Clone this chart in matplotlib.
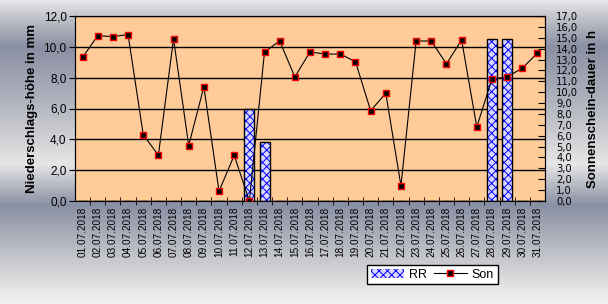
import numpy as np
import matplotlib.pyplot as plt
from matplotlib.patches import Patch
from matplotlib.lines import Line2D
from matplotlib.colors import LinearSegmentedColormap

days = ['%02d.07.2018' % d for d in range(1, 32)]
rain = [0, 0, 0, 0, 0, 0, 0, 0, 0, 0, 0, 6.0, 3.8, 0, 0, 0, 0, 0, 0, 0,
        0, 0, 0, 0, 0, 0, 0, 10.5, 10.5, 0, 0]
sun = [13.2, 15.2, 15.1, 15.3, 6.1, 4.2, 14.9, 5.1, 10.5, 0.9, 4.2, 0.0,
       13.7, 14.7, 11.4, 13.7, 13.5, 13.5, 12.8, 8.3, 9.9, 1.4, 14.7, 14.7,
       12.6, 14.8, 6.8, 11.2, 11.4, 12.2, 13.6]

plt.rcParams['font.family'] = ['Liberation Sans', 'DejaVu Sans']
plt.rcParams['hatch.linewidth'] = 0.7

fig = plt.figure(figsize=(6.08, 3.04), dpi=100)

# metallic background
bg = fig.add_axes([0, 0, 1, 1], zorder=-10)
stops = [(0.0, '#e6e6ea'), (0.05, '#c4c6cc'), (0.15, '#8a8fa3'),
         (0.33, '#b0b3be'), (0.46, '#d2d2d6'), (0.54, '#e6e6e6'),
         (0.61, '#b8bac4'), (0.675, '#8a90a4'), (0.79, '#b0b3bd'),
         (0.92, '#dcdcde'), (1.0, '#f2f2f2')]
cmap = LinearSegmentedColormap.from_list('metal', stops)
bg.imshow(np.linspace(0, 1, 300).reshape(-1, 1), aspect='auto', cmap=cmap,
          extent=[0, 1, 0, 1], origin='upper')
bg.axis('off')

ax = fig.add_axes([75 / 608, 1 - 201 / 304, 470 / 608, 185 / 304])
ax.set_facecolor('#ffcc99')
x = np.arange(len(days))

# bars: blue checker hatch then black outline
ax.bar(x, rain, width=0.66, color='#d8d8ff', edgecolor='#0000ff', hatch='xxxx',
       linewidth=0, zorder=2)
ax.bar(x, rain, width=0.66, fill=False, edgecolor='black', linewidth=1, zorder=3)

ax.set_ylim(0, 12)
ax.set_xlim(-0.5, len(days) - 0.5)
ax.set_yticks(np.arange(0, 12.1, 2))
ax.yaxis.set_major_formatter(plt.FuncFormatter(lambda v, p: ('%.1f' % v).replace('.', ',')))
ax.grid(axis='y', color='black', linewidth=1, zorder=1)
ax.set_axisbelow(True)
ax.tick_params(axis='y', direction='out', length=4, pad=2, labelsize=8.5)
ax.set_xticks(x)
ax.set_xticklabels(days, rotation=90, fontsize=7.2)
ax.tick_params(axis='x', length=0, pad=4)
ax.set_xticks(np.arange(0.5, len(days) - 0.5), minor=True)
ax.tick_params(axis='x', which='minor', direction='inout', length=6)
for s in ax.spines.values():
    s.set_color('black')
ax.set_ylabel('Niederschlags-höhe in mm', fontsize=9.5, fontweight='bold', labelpad=4)

ax2 = ax.twinx()
ax2.plot(x, sun, color='black', linewidth=0.8, marker='s', markersize=5,
         markerfacecolor='black', markeredgecolor='red', markeredgewidth=1, zorder=5)
ax2.set_ylim(0, 17)
ax2.set_yticks(np.arange(0, 17.1, 1))
ax2.yaxis.set_major_formatter(plt.FuncFormatter(lambda v, p: ('%.1f' % v).replace('.', ',')))
ax2.tick_params(axis='y', direction='in', length=5, pad=8, labelsize=8)
for lab in ax2.get_yticklabels():
    lab.set_family('DejaVu Sans')
    lab.set_stretch('condensed')
ax2.set_ylabel('Sonnenschein-dauer in h', fontsize=9.5, fontweight='bold', labelpad=6)

handles = [Patch(facecolor='#d8d8ff', edgecolor='#0000ff', hatch='xxxx', linewidth=0),
           Line2D([], [], color='black', linewidth=0.8, marker='s', markersize=5,
                  markerfacecolor='black', markeredgecolor='red')]
leg = fig.legend(handles, ['RR', 'Son'], ncol=2, loc='center',
                 bbox_to_anchor=(432.5 / 608, 1 - 274.5 / 304), fontsize=9,
                 fancybox=False, edgecolor='black', framealpha=1,
                 handlelength=2.6, handletextpad=0.4, columnspacing=0.6,
                 borderpad=0.3)
leg.get_frame().set_linewidth(1)

fig.savefig('out.png', dpi=100)
